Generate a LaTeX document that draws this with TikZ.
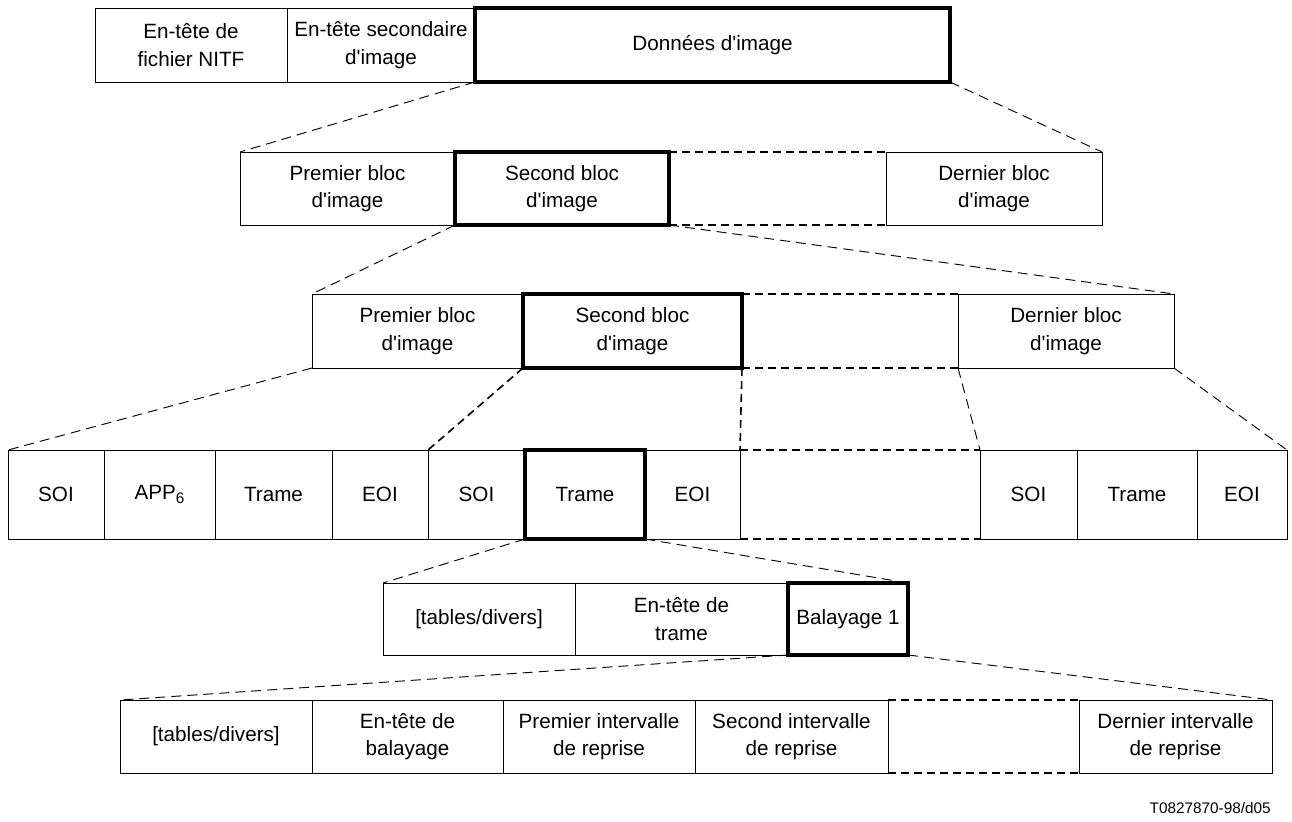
\documentclass[tikz,border=0pt]{standalone}
\usepackage{fontspec}
\setmainfont{Liberation Sans}[Ligatures=TeXOff]
\newcommand\txtfont{\fontsize{15.5}{20.5}\selectfont}
\newcommand\cell[7]{\node[#6, minimum width={(#3-#2)*0.75pt}, minimum height={(#5-#4)*0.75pt}] (#1) at ({(#2+#3)/2},{(#4+#5)/2}) {#7};}
\tikzset{
  box/.style={draw, line width=0.75pt, inner sep=0pt, outer sep=0pt, align=center, font=\txtfont},
  thickbox/.style={box, line width=2.3pt},
  gapbox/.style={inner sep=0pt, outer sep=0pt},
  link/.style={line width=0.7pt, dash pattern=on 7.5pt off 4.5pt},
  biglink/.style={line width=1.2pt, dash pattern=on 6pt off 3.75pt},
  gapline/.style={line width=1.3pt, dash pattern=on 6pt off 3.75pt},
}
\begin{document}
\begin{tikzpicture}[x=0.75pt,y=-0.75pt]
\useasboundingbox (0,0) rectangle (1292,821);
% Row 1
\cell{c1a}{95}{287}{8}{82}{box}{En-tête de\\fichier NITF}
\cell{c1b}{287}{475}{8}{82}{box}{En-tête secondaire\\d'image}
\cell{c1c}{475}{950}{8}{82}{thickbox}{Données d'image}
% Row 2
\cell{r2a}{240}{455}{152}{225}{box}{Premier bloc\\d'image}
\cell{r2g}{669}{886}{152}{225}{gapbox}{}
\cell{r2d}{886}{1102}{152}{225}{box}{Dernier bloc\\d'image}
\cell{r2b}{455}{669}{152}{225}{thickbox}{Second bloc\\d'image}
\draw[gapline] (r2g.north west) -- (r2g.north east);
\draw[gapline] (r2g.south west) -- (r2g.south east);
% Row 3
\cell{r3a}{312}{523}{294}{368}{box}{Premier bloc\\d'image}
\cell{r3g}{742}{958}{294}{368}{gapbox}{}
\cell{r3d}{958}{1174}{294}{368}{box}{Dernier bloc\\d'image}
\cell{r3b}{523}{742}{294}{368}{thickbox}{Second bloc\\d'image}
\draw[gapline] (r3g.north west) -- (r3g.north east);
\draw[gapline] (r3g.south west) -- (r3g.south east);
% Row 4
\cell{r4a}{8}{104}{450}{539}{box}{SOI}
\cell{r4b}{104}{215}{450}{539}{box}{APP\raisebox{-0.45ex}{\fontsize{11.5}{12}\selectfont 6}}
\cell{r4c}{215}{332}{450}{539}{box}{Trame}
\cell{r4d}{332}{428}{450}{539}{box}{EOI}
\cell{r4e}{428}{525}{450}{539}{box}{SOI}
\cell{r4g}{645}{740}{450}{539}{box}{EOI}
\cell{r4gap}{740}{980}{450}{539}{gapbox}{}
\cell{r4h}{980}{1077}{450}{539}{box}{SOI}
\cell{r4i}{1077}{1197}{450}{539}{box}{Trame}
\cell{r4j}{1197}{1287}{450}{539}{box}{EOI}
\cell{r4f}{525}{645}{450}{539}{thickbox}{Trame}
\draw[gapline] (r4gap.north west) -- (r4gap.north east);
\draw[gapline] (r4gap.south west) -- (r4gap.south east);
% Row 5
\cell{r5a}{383}{575}{583}{655}{box}{[tables/divers]}
\cell{r5b}{575}{788}{583}{655}{box}{En-tête de\\trame}
\cell{r5c}{788}{908}{583}{655}{thickbox}{Balayage 1}
% Row 6
\cell{r6a}{120}{312}{700}{773}{box}{[tables/divers]}
\cell{r6b}{312}{503}{700}{773}{box}{En-tête de\\balayage}
\cell{r6c}{503}{695}{700}{773}{box}{Premier intervalle\\de reprise}
\cell{r6d}{695}{888}{700}{773}{box}{Second intervalle\\de reprise}
\cell{r6gap}{888}{1079}{700}{773}{gapbox}{}
\cell{r6e}{1079}{1272}{700}{773}{box}{Dernier intervalle\\de reprise}
\draw[gapline] (r6gap.north west) -- (r6gap.north east);
\draw[gapline] (r6gap.south west) -- (r6gap.south east);
% Label
\node[anchor=east, inner sep=0pt, font=\fontsize{11.5}{13}\selectfont] (lbl) at (1271,808) {T0827870-98/d05};
% Connectors
\draw[link] (c1c.south west) -- (r2a.north west);
\draw[link] (c1c.south east) -- (r2d.north east);
\draw[link] (r2b.south west) -- (r3a.north west);
\draw[link] (r2b.south east) -- (r3d.north east);
\draw[link] (r3a.south west) -- (r4a.north west);
\draw[biglink] (r3a.south east) -- (r4e.north west);
\draw[biglink] (r3b.south east) -- (r4gap.north west);
\draw[link] (r3d.south west) -- (r4h.north west);
\draw[link] (r3d.south east) -- (r4j.north east);
\draw[link] (r4f.south west) -- (r5a.north west);
\draw[link] (r4f.south east) -- (r5c.north east);
\draw[link] (r5c.south west) -- (r6a.north west);
\draw[link] (r5c.south east) -- (r6e.north east);
\end{tikzpicture}
\end{document}
